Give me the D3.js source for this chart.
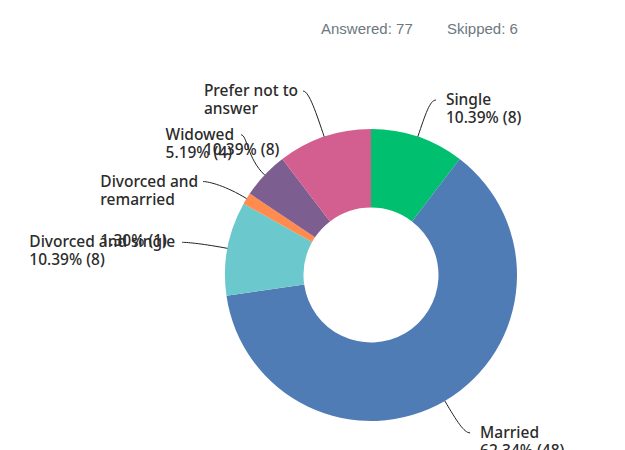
<!DOCTYPE html>
<html>
<head>
<meta charset="utf-8">
<script src="https://cdn.jsdelivr.net/npm/d3@7"></script>
<style>
  html, body { margin: 0; padding: 0; background: #fff; }
  svg { display: block; }
</style>
</head>
<body>
<svg id="chart"></svg>
<script>
// survey answers, clockwise from the top
const categories = ['Single', 'Married', 'Divorced and single', 'Divorced and remarried', 'Widowed', 'Prefer not to answer'];
const counts = [8, 48, 8, 1, 4, 8];
const percents = ['10.39%', '62.34%', '10.39%', '1.30%', '5.19%', '10.39%'];
const nameLines = [['Single'], ['Married'], ['Divorced and single'], ['Divorced and', 'remarried'], ['Widowed'], ['Prefer not to', 'answer']];
const answered = 77;
const skipped = 6;

const colors = ['#00bf6f', '#507cb6', '#6bc8cd', '#ff8b4f', '#7d5e90', '#d25f90'];
// small shifts of each label end, from where the angle puts it
const labelNudge = [[4, 5], [3, -6], [-2, 2], [-6, 6], [8.5, -10], [-7, -4]];

const W = 625, H = 450;
const cx = 371, cy = 275;
const outerR = 146, innerR = 67.5;
const labelR = 190, elbowR = 170;
const lineH = 18;

const svg = d3.select('#chart').attr('width', W).attr('height', H);

// header counts
svg.append('text')
  .attr('x', 321).attr('y', 34)
  .attr('font-family', 'Liberation Sans, Arial, sans-serif')
  .attr('font-size', 15)
  .attr('fill', '#6b787f')
  .text('Answered: ' + answered);
svg.append('text')
  .attr('x', 447).attr('y', 34)
  .attr('font-family', 'Liberation Sans, Arial, sans-serif')
  .attr('font-size', 15)
  .attr('fill', '#6b787f')
  .text('Skipped: ' + skipped);

const data = categories.map((c, i) => ({ name: c, count: counts[i], pct: percents[i], lines: nameLines[i], i: i }));

const pie = d3.pie().value(d => d.count).sort(null).startAngle(0).endAngle(2 * Math.PI);
const arcs = pie(data);

const arc = d3.arc().innerRadius(innerR).outerRadius(outerR);

const g = svg.append('g').attr('transform', `translate(${cx},${cy})`);

g.selectAll('path.slice')
  .data(arcs)
  .join('path')
  .attr('class', 'slice')
  .attr('d', arc)
  .attr('fill', d => colors[d.data.i]);

const polar = (r, a) => [r * Math.sin(a), -r * Math.cos(a)];

const labels = g.append('g');

arcs.forEach(d => {
  const mid = (d.startAngle + d.endAngle) / 2;
  const right = Math.sin(mid) >= 0;
  const p0 = polar(outerR, mid);
  const p1 = polar(elbowR, mid);
  const base = polar(labelR, mid);
  const nud = labelNudge[d.data.i];
  const end = [base[0] + nud[0], base[1] + nud[1]];
  const p2 = [end[0] + (right ? -6 : 6), end[1]];

  const path = d3.path();
  path.moveTo(p0[0], p0[1]);
  path.bezierCurveTo(p1[0], p1[1], p2[0], p2[1], end[0], end[1]);
  labels.append('path')
    .attr('d', path.toString())
    .attr('fill', 'none')
    .attr('stroke', '#222')
    .attr('stroke-width', 1);

  const t = labels.append('text')
    .attr('font-family', 'Noto Sans, sans-serif')
    .attr('font-size', 15.5)
    .attr('font-weight', 500)
    .attr('fill', '#2b2b2b');

  const lines = d.data.lines;
  lines.forEach((ln, k) => {
    t.append('tspan').attr('y', end[1] + 5 + k * lineH).text(ln);
  });
  const pctY = end[1] + 5 + (lines.length - 1) * lineH + (lines.length > 1 ? 41 : lineH);
  const pctSpan = t.append('tspan').attr('y', pctY).text(d.data.pct + ' (' + d.data.count + ')');

  let x;
  if (right) {
    x = end[0] + 10;
  } else {
    // left labels: block is left aligned, right edge of widest name line at line end
    let w = 0;
    t.selectAll('tspan').each(function () { w = Math.max(w, this.getComputedTextLength()); });
    if (lines.length > 1) {
      w = 0;
      t.selectAll('tspan').filter(function () { return this !== pctSpan.node(); })
        .each(function () { w = Math.max(w, this.getComputedTextLength()); });
    }
    x = end[0] - (lines.length > 1 ? 5 : 7) - w;
  }
  t.selectAll('tspan').attr('x', x);
});
</script>
</body>
</html>
